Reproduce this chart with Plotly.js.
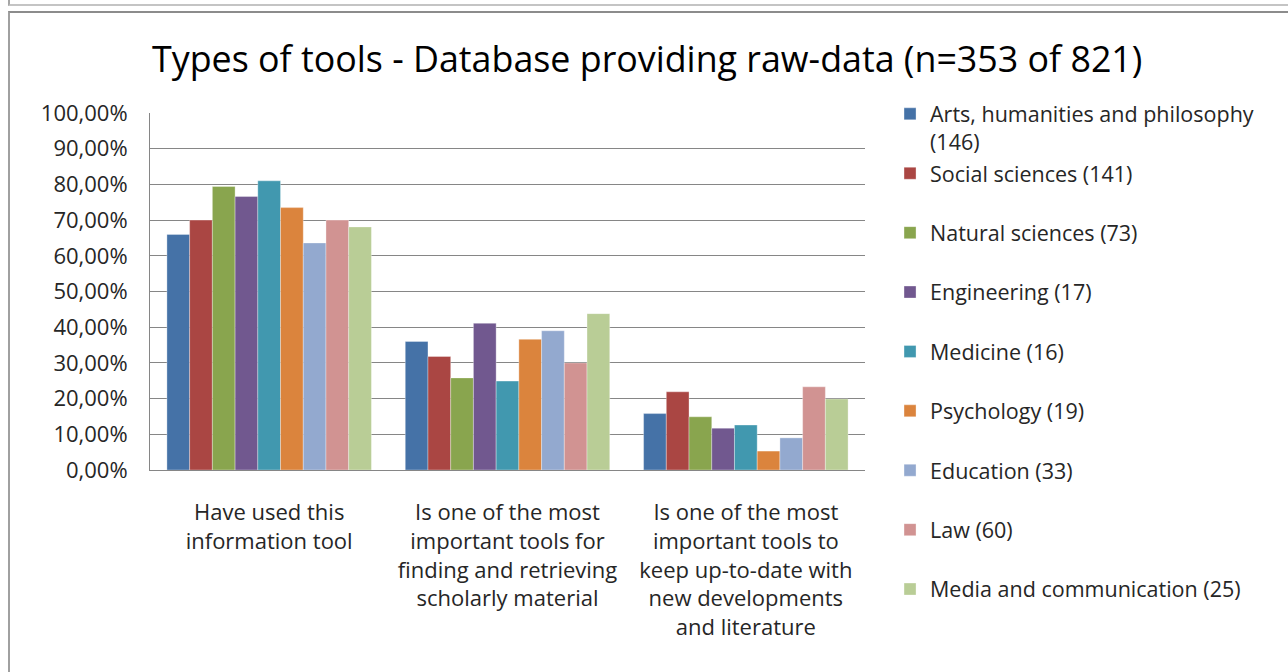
<!DOCTYPE html>
<html>
<head>
<meta charset="utf-8">
<script src="https://cdn.plot.ly/plotly-3.0.1.min.js"></script>
<style>
  html, body { margin: 0; padding: 0; background: #ffffff; }
  #wrap { position: relative; width: 1288px; height: 672px; overflow: hidden; }
  #chart { position: absolute; left: 0; top: 0; width: 1288px; height: 672px; }
  .frame { position: absolute; pointer-events: none; }
</style>
</head>
<body>
<div id="wrap">
  <div id="chart"></div>
  <div class="frame" style="left:8px; top:-2px; width:1290px; height:6px; border-left:2px solid #a6a6a6; border-bottom:2px solid #c4c4c4;"></div>
  <div class="frame" style="left:8px; top:11px; width:1290px; height:670px; border-left:2px solid #a0a0a0; border-top:2px solid #8c8c8c;"></div>
</div>
<script>
// ---- Data ----
const categories = [
  "Have used this<br>information tool",
  "Is one of the most<br>important tools for<br>finding and retrieving<br>scholarly material",
  "Is one of the most<br>important tools to<br>keep up-to-date with<br>new developments<br>and literature"
];
const seriesNames = [
  "Arts, humanities and philosophy<br>(146)",
  "Social sciences (141)",
  "Natural sciences (73)",
  "Engineering (17)",
  "Medicine (16)",
  "Psychology (19)",
  "Education (33)",
  "Law (60)",
  "Media and communication (25)"
];
const artsValues        = [66.0, 36.0, 15.8];
const socialValues      = [70.0, 31.8, 21.9];
const naturalValues     = [79.4, 25.8, 14.9];
const engineeringValues = [76.6, 41.1, 11.7];
const medicineValues    = [81.0, 24.9, 12.6];
const psychologyValues  = [73.5, 36.6, 5.3];
const educationValues   = [63.6, 39.0, 9.0];
const lawValues         = [70.0, 30.0, 23.3];
const mediaValues       = [68.1, 43.8, 19.9];
const seriesValues = [artsValues, socialValues, naturalValues, engineeringValues,
  medicineValues, psychologyValues, educationValues, lawValues, mediaValues];
const seriesColors = ["#4572A7", "#AA4643", "#89A54E", "#71588F", "#4198AF",
  "#DB843D", "#93A9CF", "#D19392", "#B9CD96"];
const yTickVals   = [0, 10, 20, 30, 40, 50, 60, 70, 80, 90, 100];
const yTickLabels = ["0,00%", "10,00%", "20,00%", "30,00%", "40,00%", "50,00%",
  "60,00%", "70,00%", "80,00%", "90,00%", "100,00%"];

const FONT = "'Open Sans', 'Noto Sans', sans-serif";

const traces = seriesNames.map((name, i) => ({
  type: "bar",
  name: name.indexOf("<br>") >= 0 ? name : name + "<br>\u00a0",
  x: categories,
  y: seriesValues[i],
  legendgroup: "g" + i,
  marker: { color: seriesColors[i], line: { width: 0.6, color: "rgba(255,255,255,0.55)" } },
  hoverinfo: "y+name"
}));

const layout = {
  width: 1288,
  height: 672,
  paper_bgcolor: "rgba(0,0,0,0)",
  plot_bgcolor: "#ffffff",
  margin: { l: 150, r: 423, t: 113, b: 202, autoexpand: false },
  font: { family: FONT, color: "#262626", size: 21 },
  title: {
    text: "Types of tools - Database providing raw-data (n=353 of 821)",
    font: { family: FONT, size: 35.8, color: "#000000" },
    x: 0.5025, xref: "container", xanchor: "center",
    y: 0.911, yref: "container", yanchor: "middle"
  },
  barmode: "group",
  bargap: 0.142,
  bargroupgap: 0,
  showlegend: true,
  legend: {
    x: 1.035, xanchor: "left",
    y: 1.055, yanchor: "top",
    maxheight: 620,
    font: { family: FONT, size: 21.5, color: "#262626" },
    tracegroupgap: 0.5,
    valign: "top",
    bgcolor: "rgba(0,0,0,0)",
    itemclick: false, itemdoubleclick: false
  },
  xaxis: {
    type: "category",
    showline: true, linecolor: "#868686", linewidth: 1,
    ticks: "", showgrid: false,
    tickfont: { family: FONT, size: 22, color: "#262626" },
    ticklabelstandoff: 23,
    fixedrange: true
  },
  yaxis: {
    range: [0, 100],
    tickmode: "array",
    tickvals: yTickVals,
    ticktext: yTickLabels,
    showline: true, linecolor: "#868686", linewidth: 1,
    showgrid: true, gridcolor: "#868686", gridwidth: 1,
    zeroline: false,
    ticks: "",
    tickfont: { family: FONT, size: 22, color: "#262626" },
    ticklabelstandoff: 17,
    fixedrange: true
  }
};

Plotly.newPlot("chart", traces, layout, { displayModeBar: false });
</script>
</body>
</html>
